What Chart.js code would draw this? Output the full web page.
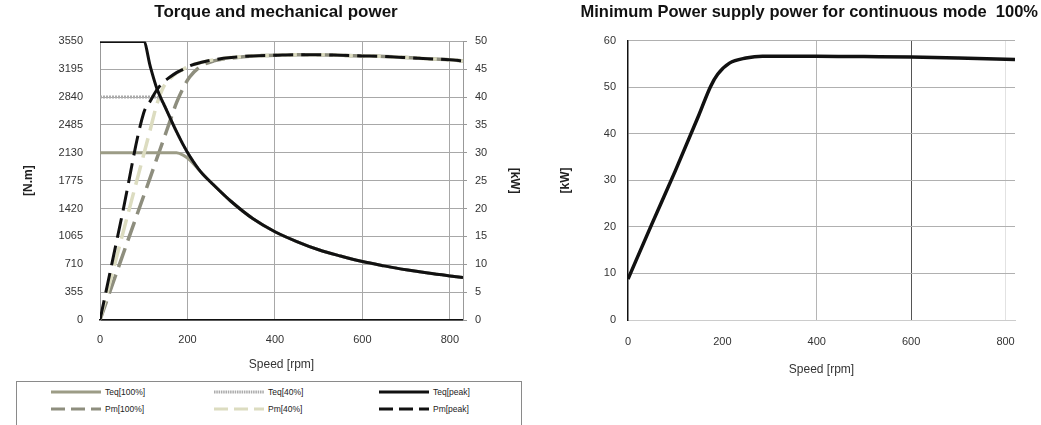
<!DOCTYPE html>
<html>
<head>
<meta charset="UTF-8" />
<script src="https://cdn.jsdelivr.net/npm/chart.js@4"></script>
<style>
  body { margin: 0; background: #fff; width: 1041px; height: 425px; overflow: hidden; position: relative; font-family: "Liberation Sans", Arial, sans-serif; }
  #torqueWrap { position: absolute; left: 0; top: 0; width: 540px; height: 380px; }
  #supplyWrap { position: absolute; left: 540px; top: 0; width: 501px; height: 380px; }
  #legend { position: absolute; left: 16px; top: 381px; width: 506px; height: 50px; border: 1px solid #8a8a8a; box-sizing: border-box; }
  .item { position: absolute; display: flex; align-items: center; font-size: 8.5px; color: #222; white-space: nowrap; }
  .item svg { margin-right: 4px; }
</style>
</head>
<body>
<div id="torqueWrap"><canvas id="torqueChart" width="540" height="380"></canvas></div>
<div id="supplyWrap"><canvas id="supplyChart" width="501" height="380"></canvas></div>
<div id="legend"></div>

<script>
  // left chart: speed [rpm] and curves
  const speedRpm = [0, 50, 100, 115, 130, 145, 160, 175, 190, 205, 230, 260, 300, 350, 400, 450, 500, 550, 600, 650, 700, 750, 800, 830];

  const teq100 = [2130, 2130, 2130, 2130, 2130, 2130, 2130, 2130, 2100, 2040, 1890, 1720, 1510, 1290, 1125, 1000, 895, 815, 745, 690, 640, 598, 562, 542];
  const teq40 = [2840, 2840, 2840, 2840, 2840, 2760, 2580, 2400, 2235, 2090, 1890, 1720, 1510, 1290, 1125, 1000, 895, 815, 745, 690, 640, 598, 562, 542];
  const teqPeak = [3550, 3550, 3550, 3230, 2950, 2760, 2580, 2400, 2235, 2090, 1890, 1720, 1510, 1290, 1125, 1000, 895, 815, 745, 690, 640, 598, 562, 542];

  const pm100 = [0, 11.2, 22.3, 25.6, 29.0, 32.3, 35.7, 39.0, 41.6, 43.6, 45.5, 46.5, 47.0, 47.4, 47.5, 47.6, 47.6, 47.5, 47.4, 47.3, 47.1, 46.9, 46.7, 46.5];
  const pm40 = [0, 14.9, 29.7, 34.2, 38.7, 41.8, 43.3, 44.3, 45.0, 45.6, 46.2, 46.7, 47.1, 47.4, 47.5, 47.6, 47.6, 47.5, 47.4, 47.3, 47.1, 46.9, 46.7, 46.5];
  const pmPeak = [0, 18.6, 37.2, 39.3, 41.3, 42.7, 43.6, 44.4, 45.0, 45.6, 46.2, 46.7, 47.1, 47.4, 47.5, 47.6, 47.6, 47.5, 47.4, 47.3, 47.1, 46.9, 46.7, 46.5];

  const torqueTicks = [0, 355, 710, 1065, 1420, 1775, 2130, 2485, 2840, 3195, 3550];
  const speedTicks = [0, 200, 400, 600, 800];

  // right chart: minimum supply power
  const supplySpeed = [0, 50, 100, 150, 175, 190, 215, 250, 285, 400, 500, 600, 700, 820];
  const supplyPower = [8.8, 20.5, 32.0, 44.0, 50.2, 52.8, 55.2, 56.3, 56.7, 56.7, 56.6, 56.5, 56.3, 56.0];

  const fontFamily = '"Liberation Sans", Arial, sans-serif';
  const tickFont = { family: fontFamily, size: 11 };
  const dash = [20, 8];
  const plain = (v) => String(v);

  const pts = (arr) => speedRpm.map((s, i) => ({ x: s, y: arr[i] }));
  const fixTicks = (list) => (s) => { s.ticks = list.map((v) => ({ value: v })); };

  const torqueSets = [
    { label: 'Teq[100%]', data: pts(teq100), yAxisID: 'yT', borderColor: '#9c9c86', borderWidth: 3, order: 2 },
    { label: 'Teq[40%]', data: pts(teq40), yAxisID: 'yT', borderColor: '#ababab', borderWidth: 3, borderDash: [2, 1], order: 1 },
    { label: 'Teq[peak]', data: pts(teqPeak), yAxisID: 'yT', borderColor: '#111', borderWidth: 3, order: 0 },
    { label: 'Pm[100%]', data: pts(pm100), yAxisID: 'yP', borderColor: '#8e8e7e', borderWidth: 3.5, borderDash: dash, order: 2 },
    { label: 'Pm[40%]', data: pts(pm40), yAxisID: 'yP', borderColor: '#dcdcc0', borderWidth: 3.5, borderDash: dash, order: 1 },
    { label: 'Pm[peak]', data: pts(pmPeak), yAxisID: 'yP', borderColor: '#111', borderWidth: 3, borderDash: dash, order: 0 }
  ];

  const torqueChart = new Chart(document.getElementById('torqueChart'), {
    type: 'line',
    data: { datasets: torqueSets },
    options: {
      responsive: false,
      animation: false,
      layout: { padding: { left: 12, right: 0, top: 0, bottom: 0 } },
      elements: { point: { radius: 0 }, line: { cubicInterpolationMode: 'monotone', fill: false } },
      plugins: {
        legend: { display: false },
        tooltip: { enabled: false },
        title: {
          display: true,
          text: 'Torque and mechanical power',
          color: '#111',
          font: { family: fontFamily, size: 17, weight: 'bold' },
          padding: { top: 2, bottom: 19 }
        }
      },
      scales: {
        x: {
          type: 'linear', min: 0, max: 830,
          afterFit: (s) => { s.height = 60; },
          afterBuildTicks: fixTicks(speedTicks),
          ticks: { padding: 13, font: tickFont, color: '#333', maxRotation: 0, callback: plain },
          grid: { color: '#a8a8a8', drawTicks: false },
          border: { color: '#111', width: 1.5 },
          title: { display: true, text: 'Speed [rpm]', color: '#333', font: { family: fontFamily, size: 12 }, padding: { top: 0, bottom: 8 } }
        },
        yT: {
          position: 'left', min: 0, max: 3550,
          afterFit: (s) => { s.width = 88; },
          afterBuildTicks: fixTicks(torqueTicks),
          ticks: { padding: 17, font: tickFont, color: '#333', callback: plain },
          grid: { color: '#a8a8a8', drawTicks: false },
          border: { color: '#999' },
          title: { display: true, text: '[N.m]', color: '#222', font: { family: fontFamily, size: 12, weight: 'bold' }, padding: { top: 9 } }
        },
        yP: {
          position: 'right', min: 0, max: 50,
          afterFit: (s) => { s.width = 77; },
          ticks: { stepSize: 5, padding: 8, font: tickFont, color: '#333', callback: plain },
          grid: { drawOnChartArea: false, tickLength: 4, color: '#999' },
          border: { color: '#999' },
          title: { display: true, text: '[kW]', color: '#222', font: { family: fontFamily, size: 12, weight: 'bold' }, padding: { top: 18 } }
        }
      }
    }
  });

  // legend box under the left chart, 3 columns x 2 rows
  const legendCols = [34, 197, 362];
  const legendRows = [5, 22];
  const legendEl = document.getElementById('legend');
  torqueChart.data.datasets.forEach((ds, i) => {
    const item = document.createElement('div');
    item.className = 'item';
    item.style.left = legendCols[i % 3] + 'px';
    item.style.top = legendRows[Math.floor(i / 3)] + 'px';
    const dashAttr = ds.borderDash ? (ds.borderDash[0] > 4 ? '14 6' : '1.5 0.8') : 'none';
    item.innerHTML =
      '<svg width="50" height="10"><line x1="0" y1="5" x2="50" y2="5" stroke="' + ds.borderColor +
      '" stroke-width="' + Math.min(ds.borderWidth, 3) + '" stroke-dasharray="' + dashAttr + '"/></svg>' +
      '<span>' + ds.label + '</span>';
    legendEl.appendChild(item);
  });

  new Chart(document.getElementById('supplyChart'), {
    type: 'line',
    data: {
      datasets: [{
        label: 'Minimum power supply',
        data: supplySpeed.map((s, i) => ({ x: s, y: supplyPower[i] })),
        borderColor: '#111',
        borderWidth: 3.5
      }]
    },
    options: {
      responsive: false,
      animation: false,
      layout: { padding: { left: 0, right: 3, top: 0, bottom: 0 } },
      elements: { point: { radius: 0 }, line: { cubicInterpolationMode: 'monotone', fill: false } },
      plugins: {
        legend: { display: false },
        tooltip: { enabled: false },
        title: {
          display: true,
          align: 'end',
          text: 'Minimum Power supply power for continuous mode  100%',
          color: '#111',
          font: { family: fontFamily, size: 16.5, weight: 'bold' },
          padding: { top: 3, bottom: 18 }
        }
      },
      scales: {
        x: {
          type: 'linear', min: 0, max: 820,
          afterFit: (s) => { s.height = 60; },
          afterBuildTicks: fixTicks(speedTicks),
          ticks: { padding: 15, font: tickFont, color: '#333', maxRotation: 0, callback: plain },
          grid: {
            drawTicks: false,
            color: (c) => {
              const v = c.tick && c.tick.value;
              if (v === 600) return '#555';
              if (v === 400) return '#b5b5b5';
              if (v === 800) return '#e2e2e2';
              return 'rgba(0,0,0,0)';
            }
          },
          border: { color: '#ccc' },
          title: { display: true, text: 'Speed [rpm]', color: '#333', font: { family: fontFamily, size: 12 }, padding: { top: 0, bottom: 3 } }
        },
        y: {
          position: 'left', min: 0, max: 60,
          afterFit: (s) => { s.width = 88; },
          ticks: { stepSize: 10, padding: 12, font: tickFont, color: '#333', callback: plain },
          grid: { color: '#b0b0b0', drawTicks: false },
          border: { color: '#111', width: 1.5 },
          title: { display: true, text: '[kW]', color: '#222', font: { family: fontFamily, size: 12, weight: 'bold' }, padding: { top: 18 } }
        },
        yEdge: {
          position: 'right',
          afterFit: (s) => { s.width = 23; },
          ticks: { display: false },
          grid: { display: false },
          border: { display: false }
        }
      }
    }
  });
</script>
</body>
</html>
